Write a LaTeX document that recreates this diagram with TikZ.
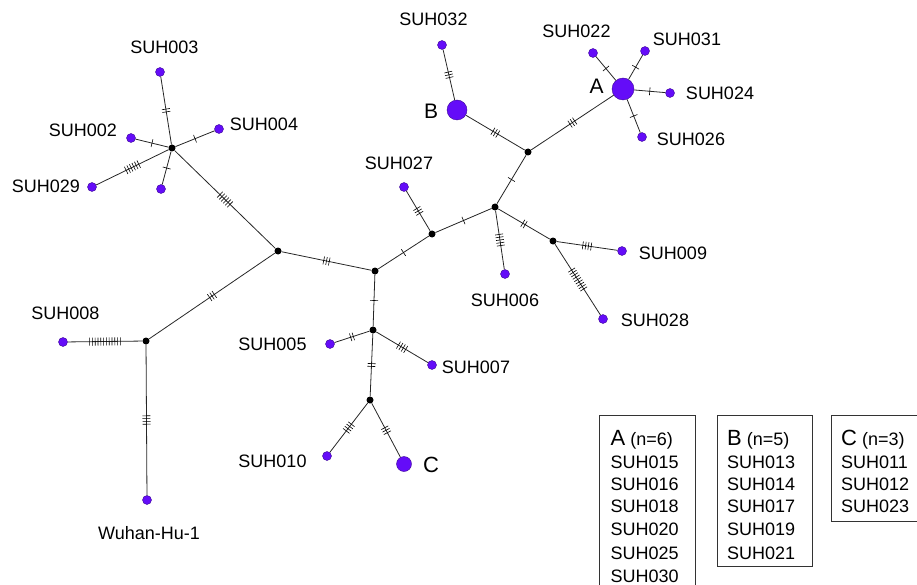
\documentclass[tikz,border=0pt]{standalone}
\usepackage{fontspec}
\setmainfont{Liberation Sans}
\usetikzlibrary{decorations.markings}
\definecolor{hap}{RGB}{100,12,248}
\definecolor{hapedge}{RGB}{60,8,150}
\tikzset{
  med/.style={circle,fill=black,inner sep=0pt,minimum size=7pt},
  hapdot/.style={circle,fill=hap,draw=hapedge,line width=0.4pt,inner sep=0pt,minimum size=#1},
  hapdot/.default=9pt,
  lbl/.style={inner sep=0pt,font=\fontsize{18}{21}\selectfont},
  biglbl/.style={inner sep=0pt,font=\fontsize{21}{24}\selectfont},
  link/.style={draw=black!85,line width=0.8pt,
    postaction={decorate,decoration={markings,mark=at position 0.5 with {
      \foreach \k in {1,...,#1}{\draw[line width=0.6pt,black] ({(\k-(#1+1)/2)*2.8pt},-4pt) -- ({(\k-(#1+1)/2)*2.8pt},4pt);}}}}},
  legbox/.style={draw=black!80,line width=0.8pt},
  legtxt/.style={inner sep=0pt,anchor=base west,font=\fontsize{18}{21}\selectfont}
}
\begin{document}
\begin{tikzpicture}[x=1pt,y=-1pt]
\useasboundingbox (0,0) rectangle (917,585);
% median vectors
\node[med] (h1) at (172,148) {};
\node[med] (n2) at (278,251) {};
\node[med] (nL) at (146,341) {};
\node[med] (n3) at (375,271) {};
\node[med] (n4) at (432,234) {};
\node[med] (n5) at (495,207) {};
\node[med] (n6) at (528,152) {};
\node[med] (n7) at (553,241) {};
\node[med] (n8) at (373,330) {};
\node[med] (n9) at (370,400) {};
% haplotypes
\node[hapdot] (s003) at (160,72) {};
\node[hapdot] (s002) at (131,138) {};
\node[hapdot] (s004) at (219,129) {};
\node[hapdot] (s029) at (92,187) {};
\node[hapdot] (sx) at (161,189) {};
\node[hapdot] (s008) at (63,342) {};
\node[hapdot] (wuh) at (147,500) {};
\node[hapdot] (s027) at (404,187) {};
\node[hapdot=20pt] (hB) at (457,110) {};
\node[hapdot] (s032) at (442,45) {};
\node[hapdot=22pt] (hA) at (623,89) {};
\node[hapdot] (s022) at (593,53) {};
\node[hapdot] (s031) at (645,51) {};
\node[hapdot] (s024) at (670,93) {};
\node[hapdot] (s026) at (642,137) {};
\node[hapdot] (s006) at (505,274) {};
\node[hapdot] (s009) at (622,251) {};
\node[hapdot] (s028) at (603,319) {};
\node[hapdot] (s005) at (330,344) {};
\node[hapdot] (s007) at (432,365) {};
\node[hapdot] (s010) at (327,456) {};
\node[hapdot=15pt] (hC) at (404,464) {};
% links
\draw[link=2] (h1) -- (s003);
\draw[link=1] (h1) -- (s002);
\draw[link=1] (h1) -- (s004);
\draw[link=6] (h1) -- (s029);
\draw[link=1] (h1) -- (sx);
\draw[link=6] (h1) -- (n2);
\draw[link=3] (n2) -- (n3);
\draw[link=3] (n2) -- (nL);
\draw[link=12] (nL) -- (s008);
\draw[link=4] (nL) -- (wuh);
\draw[link=1] (n3) -- (n4);
\draw[link=3] (n4) -- (s027);
\draw[link=1] (n4) -- (n5);
\draw[link=1] (n5) -- (n6);
\draw[link=3] (n6) -- (hB);
\draw[link=3] (hB) -- (s032);
\draw[link=3] (n6) -- (hA);
\draw[link=1] (hA) -- (s022);
\draw[link=1] (hA) -- (s031);
\draw[link=1] (hA) -- (s024);
\draw[link=1] (hA) -- (s026);
\draw[link=5] (n5) -- (s006);
\draw[link=2] (n5) -- (n7);
\draw[link=4] (n7) -- (s009);
\draw[link=9] (n7) -- (s028);
\draw[link=1] (n3) -- (n8);
\draw[link=2] (n8) -- (s005);
\draw[link=4] (n8) -- (s007);
\draw[link=2] (n8) -- (n9);
\draw[link=4] (n9) -- (s010);
\draw[link=3] (n9) -- (hC);
% labels
\node[lbl] (l003) at (164.5,47) {SUH003};
\node[lbl] (l002) at (83,130.5) {SUH002};
\node[lbl] (l004) at (264,124) {SUH004};
\node[lbl] (l029) at (46,186) {SUH029};
\node[lbl] (l032) at (433.5,19.5) {SUH032};
\node[lbl] (l022) at (576.5,31) {SUH022};
\node[lbl] (l031) at (687,39.5) {SUH031};
\node[lbl] (l024) at (720,93) {SUH024};
\node[lbl] (l026) at (691,139) {SUH026};
\node[lbl] (l027) at (399,163) {SUH027};
\node[lbl] (l009) at (673,253) {SUH009};
\node[lbl] (l006) at (505,300) {SUH006};
\node[lbl] (l028) at (655,320) {SUH028};
\node[lbl] (l008) at (65.5,313) {SUH008};
\node[lbl] (l005) at (272.5,344) {SUH005};
\node[lbl] (l007) at (476,367) {SUH007};
\node[lbl] (l010) at (272.5,461.5) {SUH010};
\node[lbl] (lwuh) at (149,533.5) {Wuhan-Hu-1};
\node[biglbl] (lA) at (596.5,86.7) {A};
\node[biglbl] (lB) at (431,110.8) {B};
\node[biglbl,font=\fontsize{22}{24}\selectfont] (lC) at (431,465) {C};
% legend boxes
\draw[legbox] (599.3,600) -- (599.3,415) -- (695.3,415) -- (695.3,600);
\draw[legbox] (717.7,415) rectangle (812.7,566.7);
\draw[legbox] (930,521) -- (831.3,521) -- (831.3,415) -- (930,415);
\node[legtxt] (tA) at (610.5,445.7) {{\fontsize{22}{24}\selectfont A} (n=6)};
\node[legtxt] (tA1) at (610.5,468.3) {SUH015};
\node[legtxt] (tA2) at (610.5,490.3) {SUH016};
\node[legtxt] (tA3) at (610.5,512.5) {SUH018};
\node[legtxt] (tA4) at (610.5,535.5) {SUH020};
\node[legtxt] (tA5) at (610.5,559) {SUH025};
\node[legtxt] (tA6) at (610.5,582) {SUH030};
\node[legtxt] (tB) at (727,445.7) {{\fontsize{22}{24}\selectfont B} (n=5)};
\node[legtxt] (tB1) at (727,468.3) {SUH013};
\node[legtxt] (tB2) at (727,490.3) {SUH014};
\node[legtxt] (tB3) at (727,512.5) {SUH017};
\node[legtxt] (tB4) at (727,535.5) {SUH019};
\node[legtxt] (tB5) at (727,559) {SUH021};
\node[legtxt] (tC) at (841,445.7) {{\fontsize{22}{24}\selectfont C} (n=3)};
\node[legtxt] (tC1) at (841,468.3) {SUH011};
\node[legtxt] (tC2) at (841,490.3) {SUH012};
\node[legtxt] (tC3) at (841,512.5) {SUH023};
\end{tikzpicture}
\end{document}
